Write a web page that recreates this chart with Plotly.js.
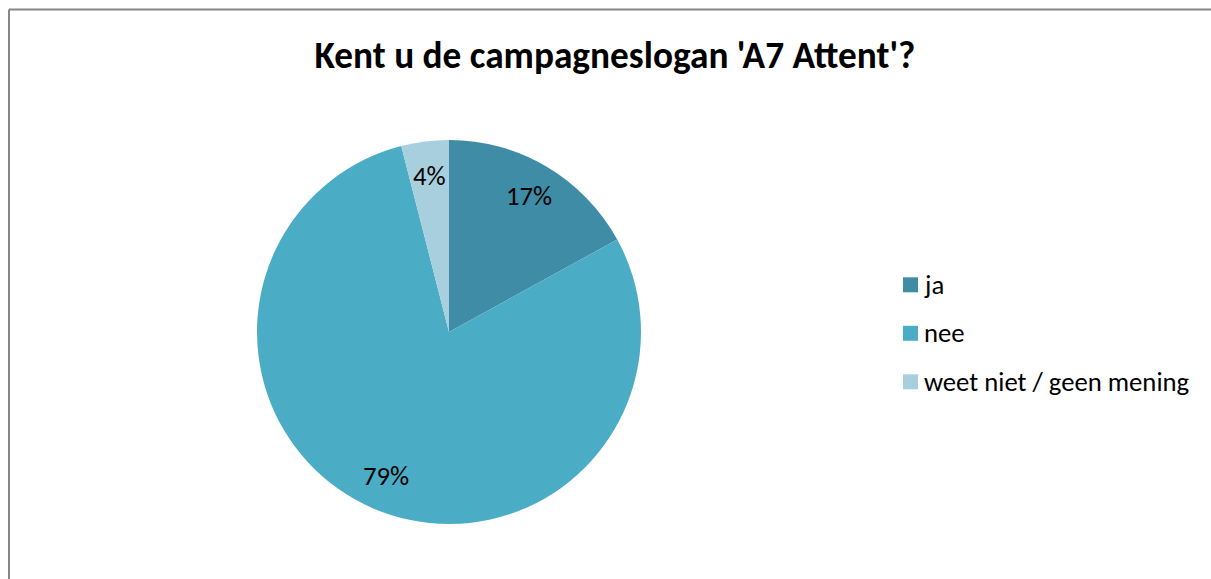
<!DOCTYPE html>
<html>
<head>
<meta charset="utf-8">
<script src="https://cdn.plot.ly/plotly-3.0.1.min.js"></script>
<style>
html,body{margin:0;padding:0;background:#fff;}
#chart{width:1211px;height:579px;}
</style>
</head>
<body>
<div id="chart"></div>
<script>
const chartTitle = "Kent u de campagneslogan 'A7 Attent'?";
const categories = ["ja", "nee", "weet niet / geen mening"];
const percentages = [17, 79, 4];
const sliceColors = ["#3E8CA5", "#4BACC6", "#A8CFDD"];

const W = 1211, H = 579;
const font = "Carlito, Calibri, 'Open Sans', 'Noto Sans', sans-serif";

// pie placement (pixels)
const cx = 449, cy = 332, R = 192;
const dom = {x: [(cx - R) / W, (cx + R) / W], y: [(H - cy - R) / H, (H - cy + R) / H]};

const trace = {
  type: "pie",
  labels: categories,
  values: percentages,
  sort: false,
  direction: "clockwise",
  rotation: 0,
  marker: {colors: sliceColors, line: {width: 0}},
  textinfo: "none",
  hoverinfo: "label+percent",
  domain: dom,
  showlegend: false
};

const annotations = [];
const shapes = [
  {type: "line", xref: "paper", yref: "paper", x0: 9 / W, x1: 1, y0: 1 - 9.5 / H, y1: 1 - 9.5 / H, line: {color: "#868686", width: 2}},
  {type: "line", xref: "paper", yref: "paper", x0: 9 / W, x1: 9 / W, y0: 0, y1: 1 - 9.5 / H, line: {color: "#868686", width: 2}}
];

// data labels placed along each slice's mid-angle, computed from the values
const total = percentages.reduce((a, b) => a + b, 0);
let cum = 0;
percentages.forEach((v) => {
  const mid = (cum + v / 2) / total * 2 * Math.PI;
  cum += v;
  const r = 0.82 * R;
  const px = cx + r * Math.sin(mid);
  const py = cy - r * Math.cos(mid);
  annotations.push({
    xref: "paper", yref: "paper", x: px / W, y: 1 - py / H,
    xanchor: "center", yanchor: "middle", showarrow: false,
    text: v + "%",
    font: {family: font, size: 26.7, color: "#000"}
  });
});

// legend (square swatch + label per category)
const legX = 903, legY0 = 284.8, legGap = 48.5, sw = 15;
categories.forEach((c, i) => {
  const yc = legY0 + i * legGap;
  shapes.push({
    type: "rect", xref: "paper", yref: "paper",
    x0: legX / W, x1: (legX + sw) / W,
    y0: 1 - (yc + sw / 2) / H, y1: 1 - (yc - sw / 2) / H,
    fillcolor: sliceColors[i], line: {width: 0}
  });
  annotations.push({
    xref: "paper", yref: "paper", x: (legX + 19) / W, y: 1 - yc / H,
    xanchor: "left", yanchor: "middle", showarrow: false,
    text: c,
    font: {family: font, size: 26.7, color: "#000"}
  });
});

const layout = {
  width: W, height: H,
  margin: {l: 0, r: 0, t: 0, b: 0},
  paper_bgcolor: "#fff",
  font: {family: font, color: "#000"},
  showlegend: false,
  title: {
    text: "<b>" + chartTitle + "</b>",
    font: {family: font, size: 37.3, color: "#000"},
    x: 615 / W, xanchor: "center",
    y: 1 - 55 / H, yanchor: "middle"
  },
  annotations: annotations,
  shapes: shapes
};

Plotly.newPlot("chart", [trace], layout, {displayModeBar: false, staticPlot: true});
</script>
</body>
</html>
